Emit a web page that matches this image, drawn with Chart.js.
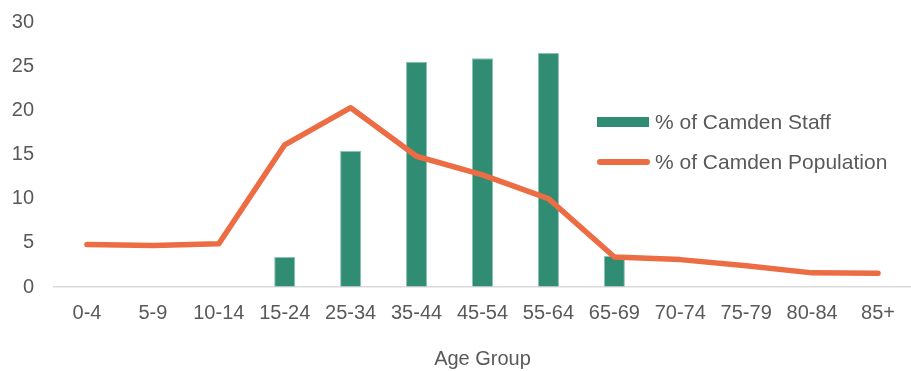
<!DOCTYPE html>
<html>
<head>
<meta charset="utf-8">
<script src="https://cdn.jsdelivr.net/npm/chart.js@4"></script>
<style>
  html, body { margin: 0; padding: 0; background: #fff; }
  #wrap { position: relative; width: 911px; height: 371px; }
  #legend { position: absolute; left: 597px; top: 106px; font-family: "Liberation Sans", Arial, sans-serif; font-size: 21px; color: #595959; }
  .item { position: relative; height: 40px; line-height: 32px; padding-left: 58px; white-space: nowrap; }
  .swatch { position: absolute; left: 0; }
</style>
</head>
<body>
<div id="wrap">
  <canvas id="ageChart" width="911" height="371"></canvas>
  <div id="legend">
    <div class="item"><span class="swatch" style="top:11px;width:52px;height:10px;background:#318C74"></span>% of Camden Staff</div>
    <div class="item"><span class="swatch" style="top:13px;width:53px;height:6px;border-radius:3px;background:#EC6C43"></span>% of Camden Population</div>
  </div>
</div>
<script>
let ageGroups = ["0-4", "5-9", "10-14", "15-24", "25-34", "35-44", "45-54", "55-64", "65-69", "70-74", "75-79", "80-84", "85+"];
let staffPct = [null, null, null, 3.4, 15.4, 25.5, 25.9, 26.5, 3.5, null, null, null, null];
let populationPct = [4.8, 4.7, 4.9, 16.1, 20.3, 14.8, 12.7, 10.0, 3.4, 3.1, 2.4, 1.6, 1.55];

let textColor = "#595959";
let font = { family: "Liberation Sans", size: 20 };

let ctx = document.getElementById("ageChart").getContext("2d");
new Chart(ctx, {
    type: "bar",
    data: {
        labels: ageGroups,
        datasets: [
            {
                type: "line",
                label: "% of Camden Population",
                data: populationPct,
                borderColor: "#EC6C43",
                backgroundColor: "#EC6C43",
                borderWidth: 5.5,
                borderCapStyle: "round",
                borderJoinStyle: "round",
                pointRadius: 0,
                tension: 0,
                order: 0
            },
            {
                label: "% of Camden Staff",
                data: staffPct,
                backgroundColor: "#318C74",
                borderColor: "#8CC3B3",
                borderWidth: { left: 1, right: 1, top: 1, bottom: 0 },
                barPercentage: 0.32,
                categoryPercentage: 1,
                order: 1
            }
        ]
    },
    options: {
        responsive: false,
        animation: false,
        layout: { padding: 0 },
        plugins: {
            legend: { display: false },
            tooltip: { enabled: false }
        },
        scales: {
            x: {
                grid: { display: false },
                border: { display: true, color: "#D9D9D9", width: 1.5 },
                ticks: { color: textColor, font: font, padding: 6, maxRotation: 0, autoSkip: false },
                title: { display: true, text: "Age Group", color: textColor, font: { family: "Liberation Sans", size: 20 }, padding: { top: 30, bottom: 0 } },
                afterFit: function(scale) { scale.height = 84; }
            },
            y: {
                min: 0,
                max: 30,
                // tick marks are invisible, they only push the labels left
                grid: { display: true, drawOnChartArea: false, drawTicks: true, tickLength: 10, color: "rgba(0,0,0,0)" },
                border: { display: false },
                ticks: { stepSize: 5, color: textColor, font: font, padding: 10 },
                afterFit: function(scale) { scale.width = 54; }
            }
        }
    }
});
</script>
</body>
</html>
